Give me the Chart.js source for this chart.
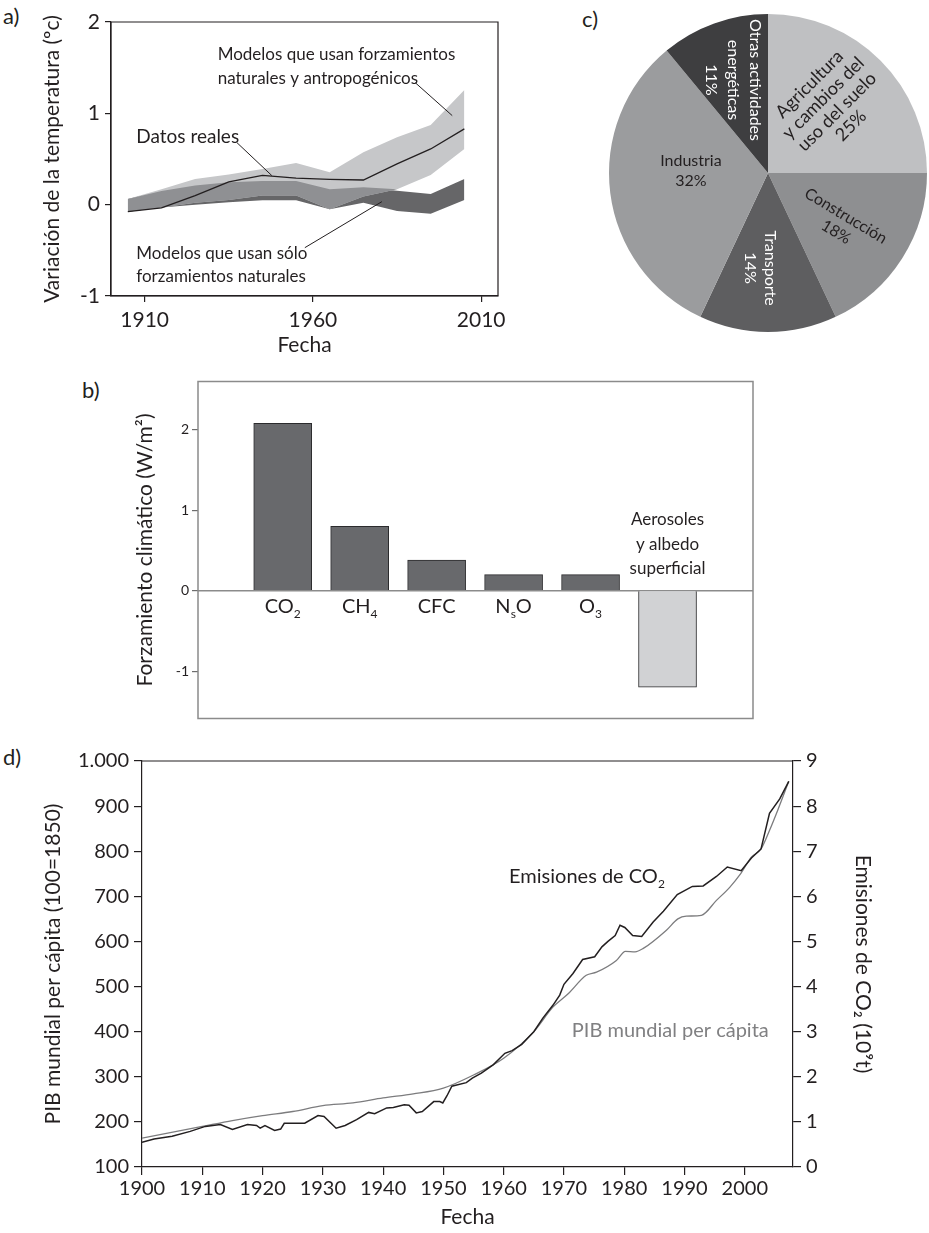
<!DOCTYPE html>
<html lang="es">
<head>
<meta charset="utf-8">
<title>Temperatura, forzamiento climático y emisiones de CO₂</title>
<script src="https://cdn.jsdelivr.net/npm/chart.js@4.4.1/dist/chart.umd.min.js"></script>
<style>
  html, body { margin: 0; padding: 0; background: #fff; }
  #page { position: relative; width: 929px; height: 1233px; overflow: hidden;
          font-family: Lato, "Open Sans", sans-serif; color: #231f20; }
  #page canvas { position: absolute; }
  .tag { position: absolute; font-size: 22px; line-height: 22px; }
</style>
</head>
<body>
<div id="page">
  <div class="tag" style="left:3px;top:5px">a)</div>
  <div class="tag" style="left:582px;top:8px">c)</div>
  <div class="tag" style="left:82px;top:379px">b)</div>
  <div class="tag" style="left:3px;top:746px">d)</div>
  <canvas id="chartA" width="520" height="360" style="left:0;top:0"></canvas>
  <canvas id="chartC" width="329" height="346" style="left:600px;top:0"></canvas>
  <canvas id="chartB" width="690" height="360" style="left:80px;top:370px"></canvas>
  <canvas id="chartD" width="929" height="493" style="left:0;top:740px"></canvas>
</div>
<script>
// ---- a) temperature anomaly: observations and model ranges (decade centres) ----
const decadeYears    = [1905, 1915, 1925, 1935, 1945, 1955, 1965, 1975, 1985, 1995, 2005];
const observedTemp   = [-0.077, -0.036, 0.10, 0.25, 0.32, 0.29, 0.277, 0.27, 0.446, 0.61, 0.83];
const allForcingHigh = [0.062, 0.17, 0.28, 0.33, 0.39, 0.456, 0.354, 0.573, 0.737, 0.873, 1.256];
const allForcingLow  = [-0.077, -0.03, 0.02, 0.05, 0.10, 0.10, -0.05, 0.09, 0.17, 0.325, 0.61];
const naturalHigh    = [0.062, 0.15, 0.21, 0.245, 0.26, 0.26, 0.17, 0.19, 0.153, 0.117, 0.28];
const naturalLow     = [-0.077, -0.03, 0.0, 0.026, 0.047, 0.047, -0.05, 0.02, -0.07, -0.10, 0.05];
const tempYearTicks  = [1910, 1960, 2010];
const tempValueTicks = [-1, 0, 1, 2];

// ---- b) radiative forcing by agent ----
const forcingAgents = ['CO_2', 'CH_4', 'CFC', 'N_sO', 'O_3', 'Aerosoles\ny albedo\nsuperficial'];
const forcingValues = [2.08, 0.80, 0.38, 0.20, 0.20, -1.20];
const forcingTicks  = [-1, 0, 1, 2];

// ---- c) emissions by sector (%) ----
const sectorNames  = ['Agricultura\ny cambios del\nuso del suelo', 'Construcción', 'Transporte', 'Industria', 'Otras actividades\nenergéticas'];
const sectorShares = [25, 18, 14, 32, 11];

// ---- d) world GDP per capita and CO2 emissions ----
const gdpYears = [1900, 1910, 1915, 1920, 1925, 1930, 1935, 1940, 1945, 1950, 1955, 1960, 1965, 1968.2, 1970.7,
                  1973.7, 1975.4, 1978.7, 1980.2, 1981.8, 1983.1, 1987, 1988.9, 1990.3, 1992.8, 1995.3, 1997.5,
                  1999.2, 2001.1, 2002.7, 2004.1, 2005.5, 2007.3];
const gdpIndex = [164, 190, 203, 214, 223, 236, 242, 253, 262, 275, 304, 341, 400, 455, 484,
                  525, 532, 558, 578, 577, 584, 625, 650, 656, 658, 691, 720,
                  748, 787, 805, 846, 892, 955];
const co2Years = [1900, 1902, 1905, 1908, 1910.5, 1913, 1915, 1917.5, 1919, 1919.6, 1920.4, 1922, 1923, 1923.6,
                  1927, 1929.2, 1930.2, 1932.2, 1933.7, 1935.6, 1937.6, 1938.6, 1940.6, 1941.7, 1943.5, 1944.3,
                  1945.5, 1946.5, 1948.4, 1949.4, 1949.9, 1950.6, 1951.4, 1953.8, 1954.8, 1956.3, 1958.3, 1960.2,
                  1961.4, 1963, 1965, 1966.5, 1968.2, 1969.3, 1970, 1971.5, 1973.1, 1975.1, 1976.3, 1977.3,
                  1978.5, 1979.3, 1980.1, 1981.4, 1982.9, 1984.8, 1986.5, 1988.8, 1991.3, 1993.1, 1995.3, 1997.1,
                  1999.4, 2001.1, 2002.7, 2004.1, 2005.8, 2007.3];
const co2Emissions = [0.55, 0.62, 0.68, 0.79, 0.90, 0.94, 0.83, 0.94, 0.92, 0.86, 0.92, 0.81, 0.84, 0.97,
                      0.97, 1.14, 1.12, 0.86, 0.92, 1.05, 1.21, 1.18, 1.31, 1.32, 1.38, 1.37,
                      1.20, 1.23, 1.45, 1.45, 1.42, 1.58, 1.79, 1.87, 1.97, 2.08, 2.27, 2.52,
                      2.58, 2.72, 3.0, 3.3, 3.59, 3.81, 4.05, 4.29, 4.60, 4.66, 4.88, 5.00,
                      5.13, 5.36, 5.31, 5.13, 5.11, 5.43, 5.67, 6.04, 6.22, 6.23, 6.44, 6.65,
                      6.57, 6.85, 7.05, 7.84, 8.16, 8.55];
const gdpTicks  = [100, 200, 300, 400, 500, 600, 700, 800, 900, 1000];
const co2Ticks  = [0, 1, 2, 3, 4, 5, 6, 7, 8, 9];
const yearTicks = [1900, 1910, 1920, 1930, 1940, 1950, 1960, 1970, 1980, 1990, 2000];

// ---------------------------------------------------------------------------
const INK = '#231f20';
const FONT = 'Lato, "Open Sans", sans-serif';
Chart.defaults.font.family = FONT;
Chart.defaults.color = INK;
Chart.defaults.animation = false;
Chart.defaults.plugins.legend.display = false;
Chart.defaults.plugins.tooltip.enabled = false;

const toPoints = (xs, ys) => xs.map((x, i) => ({ x, y: ys[i] }));
const fixedTicks = list => scale => { scale.ticks = list.map(v => ({ value: v })); };
const thousands = v => v >= 1000 ? Math.floor(v / 1000) + '.' + String(v % 1000).padStart(3, '0') : String(v);

// Draw text where "_x" marks a one-character subscript.
function drawRich(ctx, text, x, y, size, align) {
  const parts = [];
  for (let i = 0; i < text.length; i++) {
    if (text[i] === '_' && i + 1 < text.length) { parts.push({ t: text[i + 1], sub: true }); i++; }
    else if (parts.length && !parts[parts.length - 1].sub) parts[parts.length - 1].t += text[i];
    else parts.push({ t: text[i], sub: false });
  }
  const subSize = Math.round(size * 0.6);
  let total = 0;
  parts.forEach(p => { ctx.font = (p.sub ? subSize : size) + 'px ' + FONT; p.w = ctx.measureText(p.t).width; total += p.w; });
  let cx = align === 'center' ? x - total / 2 : x;
  ctx.textAlign = 'left';
  ctx.textBaseline = 'middle';
  parts.forEach(p => {
    ctx.font = (p.sub ? subSize : size) + 'px ' + FONT;
    ctx.fillText(p.t, cx, p.sub ? y + size * 0.38 : y);
    cx += p.w;
  });
}

function framePlugin(color, width, sides) {
  return {
    id: 'frame',
    afterDraw(chart) {
      const { ctx, chartArea: a } = chart;
      ctx.save();
      ctx.strokeStyle = color;
      ctx.lineWidth = width;
      ctx.beginPath();
      if (sides === 'top') { ctx.moveTo(a.left, a.top); ctx.lineTo(a.right, a.top); }
      else ctx.rect(a.left, a.top, a.right - a.left, a.bottom - a.top);
      ctx.stroke();
      ctx.restore();
    }
  };
}

// Text callouts positioned in data units, with optional leader lines.
function calloutPlugin(notes, leaders, yId) {
  return {
    id: 'callouts',
    afterDatasetsDraw(chart) {
      const { ctx } = chart;
      const xs = chart.scales.x, ys = chart.scales[yId];
      ctx.save();
      ctx.strokeStyle = INK;
      ctx.lineWidth = 1;
      leaders.forEach(l => {
        ctx.beginPath();
        ctx.moveTo(xs.getPixelForValue(l[0]), ys.getPixelForValue(l[1]));
        ctx.lineTo(xs.getPixelForValue(l[2]), ys.getPixelForValue(l[3]));
        ctx.stroke();
      });
      notes.forEach(n => {
        ctx.fillStyle = n.color || INK;
        const x0 = xs.getPixelForValue(n.x), y0 = ys.getPixelForValue(n.y);
        n.lines.forEach((t, k) => drawRich(ctx, t, x0, y0 + k * n.lh, n.size, 'left'));
      });
      ctx.restore();
    }
  };
}

const axisGrid = (len, color) => ({ drawOnChartArea: false, drawTicks: true, tickLength: len, color, lineWidth: 1.2 });

// ---------------------------------- a) -------------------------------------
const overlapLow  = decadeYears.map((_, i) => Math.max(naturalLow[i], allForcingLow[i]));
const overlapHigh = decadeYears.map((_, i) => Math.max(overlapLow[i], Math.min(naturalHigh[i], allForcingHigh[i])));
const band = (vals, color, order) => ({
  data: toPoints(decadeYears, vals), borderColor: 'rgba(0,0,0,0)', borderWidth: 0, pointRadius: 0,
  tension: 0, fill: color ? '-1' : false, backgroundColor: color || 'rgba(0,0,0,0)', order
});

new Chart(document.getElementById('chartA'), {
  type: 'line',
  data: {
    datasets: [
      band(naturalLow, null, 7),
      band(naturalHigh, '#666668', 6),
      band(allForcingLow, null, 5),
      band(allForcingHigh, '#c6c7c9', 4),
      band(overlapLow, null, 3),
      band(overlapHigh, '#8f9093', 2),
      { data: toPoints(decadeYears, observedTemp), borderColor: INK, borderWidth: 1.3, pointRadius: 0,
        tension: 0, fill: false, order: 0 }
    ]
  },
  options: {
    responsive: false,
    layout: { padding: { left: 40, right: 22, top: 22, bottom: 2 } },
    scales: {
      x: {
        type: 'linear', min: 1900, max: 2015,
        afterBuildTicks: fixedTicks(tempYearTicks),
        afterFit: s => { s.height = 62; },
        grid: axisGrid(6, INK), border: { color: INK, width: 1.2 },
        ticks: { font: { size: 21 }, padding: 6, maxRotation: 0, callback: v => String(v) },
        title: { display: true, text: 'Fecha', font: { size: 21 }, padding: 0 }
      },
      y: {
        min: -1, max: 2,
        afterBuildTicks: fixedTicks(tempValueTicks),
        afterFit: s => { s.width = 71; },
        grid: axisGrid(6, INK), border: { color: INK, width: 1.2 },
        ticks: { font: { size: 21 }, padding: 5, callback: v => String(v) },
        title: { display: true, text: 'Variación de la temperatura (ºc)', font: { size: 21 }, padding: 0 }
      }
    }
  },
  plugins: [
    framePlugin(INK, 1.2),
    calloutPlugin([
      { lines: ['Modelos que usan forzamientos', 'naturales y antropogénicos'], x: 1931.7, y: 1.648, lh: 24, size: 17 },
      { lines: ['Datos reales'], x: 1907.5, y: 0.737, lh: 24, size: 19 },
      { lines: ['Modelos que usan sólo', 'forzamientos naturales'], x: 1907.5, y: -0.53, lh: 23, size: 17 }
    ], [
      [1990.4, 1.336, 2001.4, 0.975],
      [1937.4, 0.68, 1947.8, 0.318],
      [1957.6, -0.471, 1980.5, 0.033]
    ], 'y')
  ]
});

// ---------------------------------- c) -------------------------------------
const sliceLook = [
  { fill: '#bfc0c2', ink: INK,    size: 18, lh: 19.5, frac: 0.58, shift: -2.6, rot: -45 },
  { fill: '#8e8f91', ink: INK,    size: 16, lh: 19, frac: 0.56, shift: 2.6,  rot: 31 },
  { fill: '#5e5e60', ink: '#fff', size: 16, lh: 20, frac: 0.60, shift: 4.8,  rot: 90 },
  { fill: '#9b9c9e', ink: INK,    size: 16, lh: 20, frac: 0.485, shift: 8.7, rot: 0 },
  { fill: '#3e3e40', ink: '#fff', size: 16, lh: 22, frac: 0.625, shift: -0.8, rot: 90 }
];
const sliceLabels = {
  id: 'sliceLabels',
  afterDatasetsDraw(chart) {
    const { ctx } = chart;
    chart.getDatasetMeta(0).data.forEach((arc, i) => {
      const L = sliceLook[i];
      const mid = (arc.startAngle + arc.endAngle) / 2 + L.shift * Math.PI / 180;
      const r = arc.outerRadius * L.frac;
      ctx.save();
      ctx.translate(arc.x + r * Math.cos(mid), arc.y + r * Math.sin(mid));
      ctx.rotate(L.rot * Math.PI / 180);
      ctx.fillStyle = L.ink;
      ctx.font = L.size + 'px ' + FONT;
      ctx.textAlign = 'center';
      ctx.textBaseline = 'middle';
      const lines = sectorNames[i].split('\n').concat(sectorShares[i] + '%');
      lines.forEach((t, k) => ctx.fillText(t, 0, (k - (lines.length - 1) / 2) * L.lh));
      ctx.restore();
    });
  }
};
new Chart(document.getElementById('chartC'), {
  type: 'pie',
  data: {
    labels: sectorNames,
    datasets: [{ data: sectorShares, backgroundColor: sliceLook.map(s => s.fill), borderWidth: 0 }]
  },
  options: {
    responsive: false,
    layout: { padding: { left: 9, right: 2, top: 14, bottom: 14 } }
  },
  plugins: [sliceLabels]
});

// ---------------------------------- b) -------------------------------------
const forcingLabels = {
  id: 'forcingLabels',
  beforeDatasetsDraw(chart) {
    const { ctx, chartArea: a, scales: { y } } = chart;
    const y0 = y.getPixelForValue(0);
    ctx.save();
    ctx.strokeStyle = '#8b8b8b';
    ctx.lineWidth = 1.5;
    ctx.beginPath(); ctx.moveTo(a.left, y0); ctx.lineTo(a.right, y0); ctx.stroke();
    ctx.restore();
  },
  afterDatasetsDraw(chart) {
    const { ctx, scales: { x, y } } = chart;
    const y0 = y.getPixelForValue(0);
    ctx.save();
    ctx.fillStyle = INK;
    forcingAgents.forEach((name, i) => {
      const cx = x.getPixelForValue(i);
      const lines = name.split('\n');
      if (forcingValues[i] >= 0) drawRich(ctx, lines[0], cx, y0 + 16, 20, 'center');
      else lines.forEach((t, k) => drawRich(ctx, t, cx, y0 - 22 - (lines.length - 1 - k) * 24.5, 17, 'center'));
    });
    ctx.restore();
  }
};
new Chart(document.getElementById('chartB'), {
  type: 'bar',
  data: {
    datasets: [{
      data: toPoints(forcingValues.map((_, i) => i), forcingValues),
      backgroundColor: forcingValues.map(v => v < 0 ? '#d1d2d4' : '#68696c'),
      borderColor: '#2b2b2d', borderWidth: 1, barThickness: 58
    }]
  },
  options: {
    responsive: false,
    layout: { padding: { left: 53, right: 17, top: 8, bottom: 11 } },
    scales: {
      x: { type: 'linear', display: false, min: -0.65, max: 5.66 },
      y: {
        min: -1.59, max: 2.6,
        afterBuildTicks: fixedTicks(forcingTicks),
        afterFit: s => { s.width = 65; },
        grid: axisGrid(6, '#6d6d6d'), border: { display: false },
        ticks: { font: { size: 14 }, padding: 3, callback: v => String(v) },
        title: { display: true, text: 'Forzamiento climático (W/m²)', font: { size: 21 }, padding: 0 }
      }
    }
  },
  plugins: [forcingLabels, framePlugin('#8b8b8b', 1.5)]
});

// ---------------------------------- d) -------------------------------------
new Chart(document.getElementById('chartD'), {
  type: 'line',
  data: {
    datasets: [
      { data: toPoints(gdpYears, gdpIndex), yAxisID: 'y', borderColor: '#7c7c7e', borderWidth: 1.3,
        pointRadius: 0, cubicInterpolationMode: 'monotone', fill: false, order: 1 },
      { data: toPoints(co2Years, co2Emissions), yAxisID: 'y2', borderColor: INK, borderWidth: 1.5,
        pointRadius: 0, tension: 0, fill: false, order: 0 }
    ]
  },
  options: {
    responsive: false,
    layout: { padding: { left: 41, right: 54, top: 21, bottom: 3 } },
    scales: {
      x: {
        type: 'linear', min: 1900, max: 2008,
        afterBuildTicks: fixedTicks(yearTicks),
        afterFit: s => { s.height = 63; },
        grid: axisGrid(8, INK), border: { color: INK, width: 1.2 },
        ticks: { font: { size: 20 }, padding: 2, maxRotation: 0, callback: v => String(v) },
        title: { display: true, text: 'Fecha', font: { size: 21 }, padding: 0 }
      },
      y: {
        position: 'left', min: 100, max: 1000,
        afterBuildTicks: fixedTicks(gdpTicks),
        afterFit: s => { s.width = 101; },
        grid: axisGrid(8, INK), border: { color: INK, width: 1.2 },
        ticks: { font: { size: 20 }, padding: 5, callback: thousands },
        title: { display: true, text: 'PIB mundial per cápita (100=1850)', font: { size: 21 }, padding: 0 }
      },
      y2: {
        position: 'right', min: 0, max: 9,
        afterBuildTicks: fixedTicks(co2Ticks),
        afterFit: s => { s.width = 82; },
        grid: axisGrid(8, INK), border: { color: INK, width: 1.2 },
        ticks: { font: { size: 20 }, padding: 5, callback: v => String(v) },
        title: { display: true, text: 'Emisiones de CO₂ (10⁹t)', font: { size: 21 }, padding: 0 }
      }
    }
  },
  plugins: [
    framePlugin(INK, 1.2, 'top'),
    calloutPlugin([
      { lines: ['Emisiones de CO_2'], x: 1960.9, y: 744, lh: 24, size: 20 },
      { lines: ['PIB mundial per cápita'], x: 1971.3, y: 403, lh: 24, size: 20, color: '#808082' }
    ], [], 'y')
  ]
});
</script>
</body>
</html>
